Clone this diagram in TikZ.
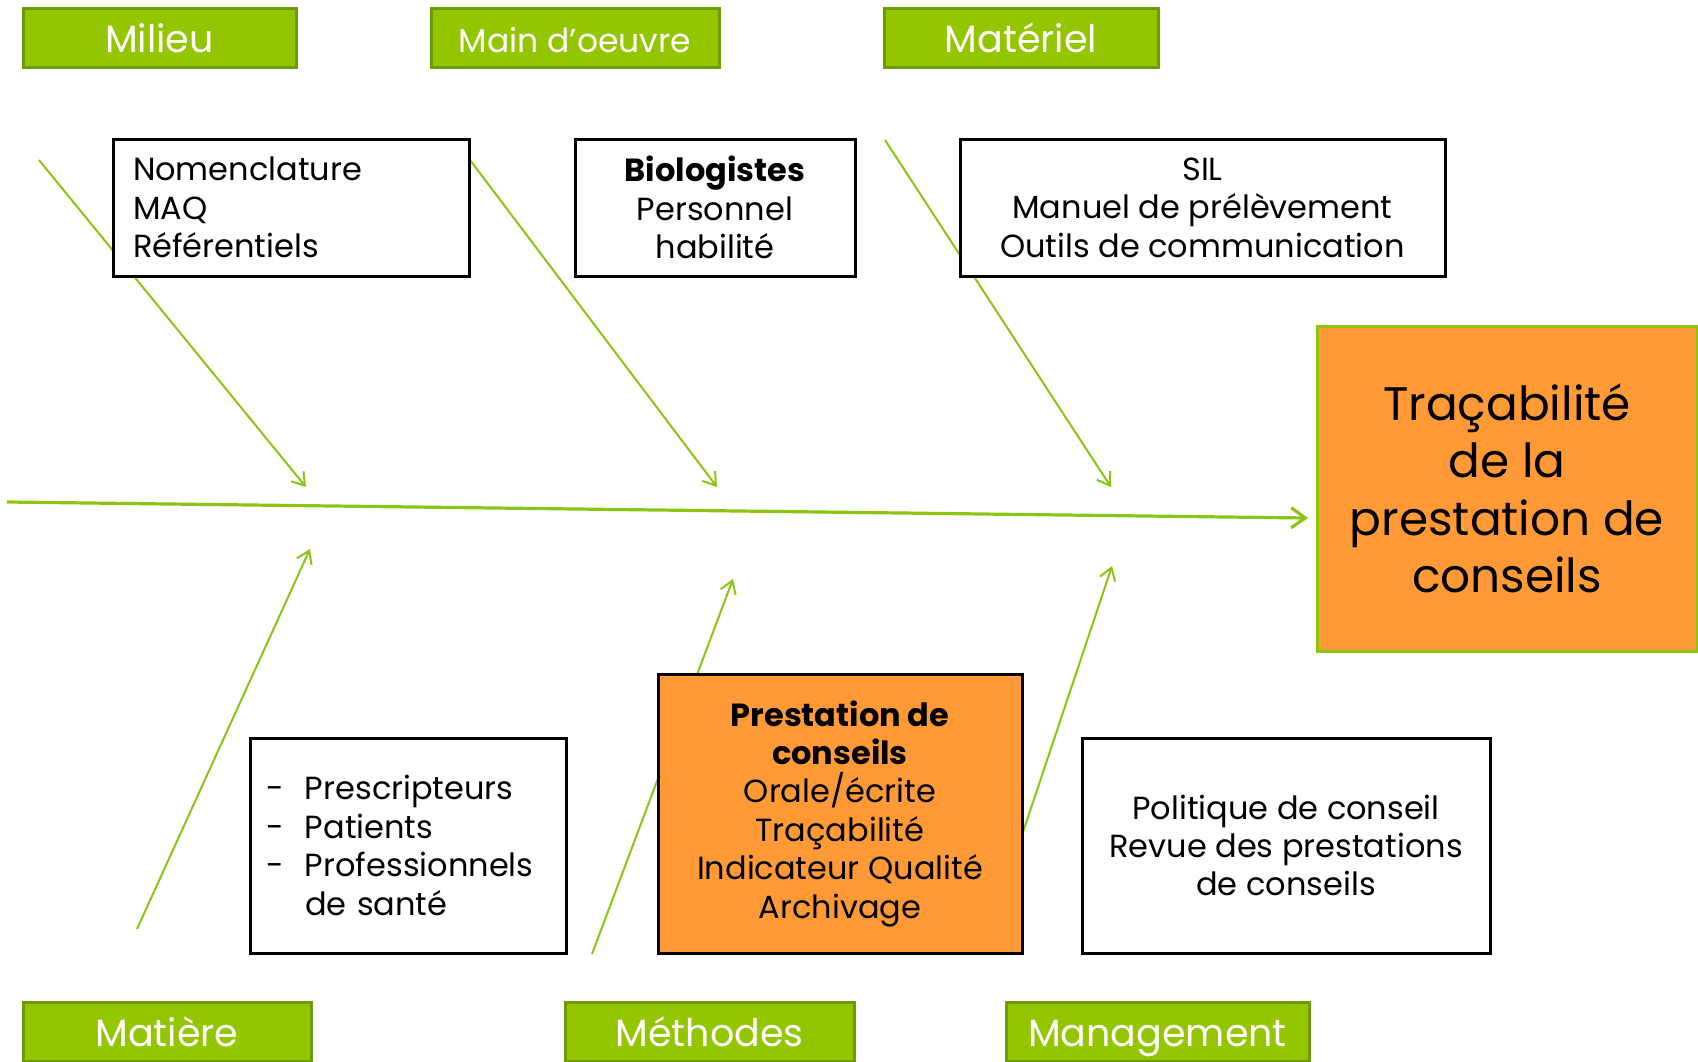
\documentclass[tikz,border=0pt]{standalone}
\usepackage{fontspec}
\setmainfont{Poppins}
\usetikzlibrary{arrows.meta}
\definecolor{lblgreen}{HTML}{94C600}
\definecolor{lblborder}{HTML}{6F9A0A}
\definecolor{linegreen}{HTML}{8CC414}
\definecolor{orangefill}{HTML}{FF9A36}
\begin{document}
\begin{tikzpicture}[x=0.5pt,y=-0.5pt,
  catlabel/.style={draw=lblborder, line width=1.5pt, fill=lblgreen, text=white,
    font=\fontsize{19}{23}\selectfont, inner sep=0pt, minimum height=29.5pt,
    text height=17pt, text depth=1.6pt},
  causebox/.style={draw=black, line width=1.5pt, fill=white, inner sep=0pt,
    font=\fontsize{16}{19.2}\selectfont, align=center, minimum height=68.5pt},
  bone/.style={draw=linegreen, line width=1pt, -{Straight Barb[length=6pt,width=8pt]}},
  spine/.style={draw=linegreen, line width=1.6pt, -{Straight Barb[length=7pt,width=10pt]}}]
\useasboundingbox (0,0) rectangle (1698,1061);
% bone end points
\coordinate (s0) at (7,502);
\coordinate (s1) at (1308,518);
\coordinate (a1) at (39,160);   \coordinate (a1e) at (306,487);
\coordinate (a2) at (470,160);  \coordinate (a2e) at (717,487);
\coordinate (a3) at (885,140);  \coordinate (a3e) at (1111,487);
\coordinate (b1) at (137,929);  \coordinate (b1e) at (310,549);
\coordinate (b2) at (592,954);  \coordinate (b2e) at (733,579);
\coordinate (b3) at (1022,835); \coordinate (b3e) at (1112,566);
\draw[spine] (s0) -- (s1);
\draw[bone] (a1) -- (a1e);
\draw[bone] (a2) -- (a2e);
\draw[bone] (a3) -- (a3e);
\draw[bone] (b1) -- (b1e);
\draw[bone] (b2) -- (b2e);
\draw[bone] (b3) -- (b3e);
% category labels
\node[catlabel, minimum width=136.5pt] (milieu) at (159.5,37.5) {Milieu};
\node[catlabel, minimum width=144pt, font=\fontsize{16.5}{20}\selectfont] (main) at (575,37.5) {Main d’oeuvre};
\node[catlabel, minimum width=137pt] (materiel) at (1021,37.5) {Matériel};
\node[catlabel, minimum width=144pt] (matiere) at (167,1031.5) {Matière};
\node[catlabel, minimum width=144.5pt] (methodes) at (709.5,1031.5) {Méthodes};
\node[catlabel, minimum width=151.5pt] (management) at (1157.5,1031.5) {Management};
% cause boxes
\node[causebox, align=left, inner xsep=10pt, text width=158pt] (nomen) at (291,207.5)
  {Nomenclature\\MAQ\\Référentiels};
\node[causebox, minimum width=140pt] (bio) at (715,207.5)
  {\textbf{Biologistes}\\Personnel\\habilité};
\node[causebox, minimum width=242.5pt] (sil) at (1202.5,207.5)
  {SIL\\Manuel de prélèvement\\Outils de communication};
\node[causebox, align=left, inner xsep=8.25pt, text width=141.5pt, minimum height=107.5pt] (presc) at (408,845.5)
  {\makebox[19.25pt][l]{-}Prescripteurs\\\makebox[19.25pt][l]{-}Patients\\\makebox[19.25pt][l]{-}Professionnels\\\makebox[19.25pt][l]{}de santé};
\node[causebox, fill=orangefill, minimum width=182pt, minimum height=139.5pt] (prest) at (840,813.5)
  {\textbf{Prestation de}\\\textbf{conseils}\\Orale/écrite\\Traçabilité\\Indicateur Qualité\\Archivage};
\node[causebox, minimum width=204pt, minimum height=107.5pt] (polit) at (1286,845.5)
  {Politique de conseil\\Revue des prestations\\de conseils};
% effect
\node[draw=linegreen, line width=1.5pt, fill=orangefill, inner sep=0pt, align=center,
  minimum width=190pt, minimum height=162.5pt, font=\fontsize{23.5}{28.7}\selectfont] (effect) at (1507,488.5)
  {Traçabilité\\de la\\prestation de\\conseils};
\end{tikzpicture}
\end{document}
